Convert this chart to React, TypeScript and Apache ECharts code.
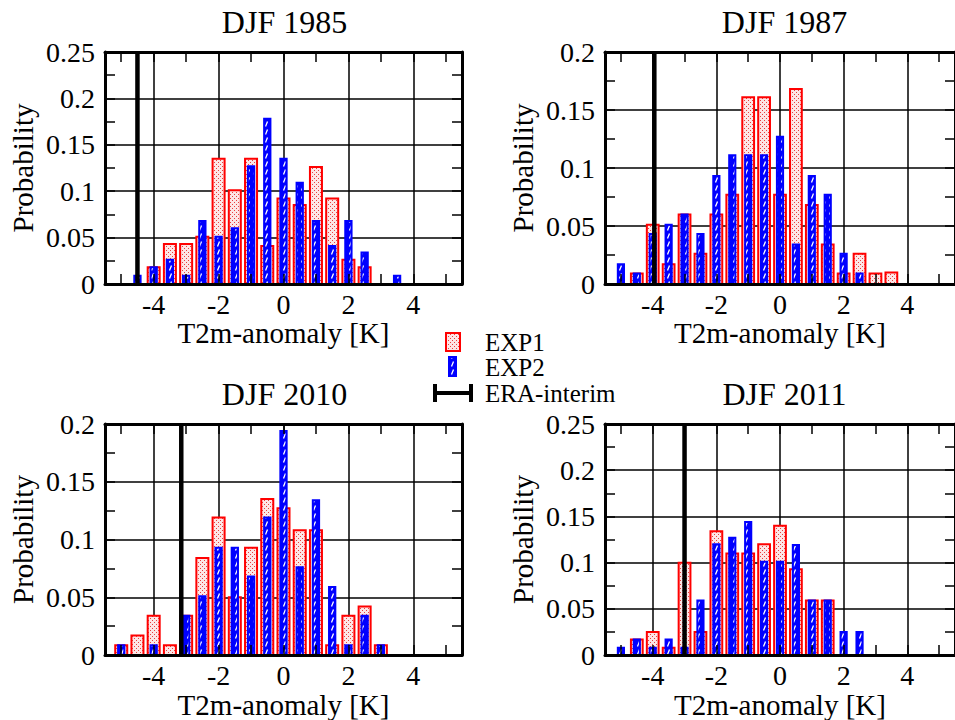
import React, { useEffect, useRef } from 'react';
import * as echarts from 'echarts';

// ---------- data ----------
const bins = [-5, -4.5, -4, -3.5, -3, -2.5, -2, -1.5, -1, -0.5, 0, 0.5, 1, 1.5, 2, 2.5, 3, 3.5];

const panelTitles = ['DJF 1985', 'DJF 1987', 'DJF 2010', 'DJF 2011'];

const exp1_1985 = [0, 0, 0.018, 0.043, 0.043, 0.051, 0.135, 0.101, 0.135, 0.041, 0.092, 0.085, 0.126, 0.092, 0.026, 0.018, 0, 0];
const exp2_1985 = [0, 0.009, 0.018, 0.026, 0.009, 0.068, 0.051, 0.060, 0.127, 0.178, 0.135, 0.109, 0.068, 0.041, 0.068, 0.034, 0, 0.009];

const exp1_1987 = [0, 0.009, 0.051, 0.017, 0.060, 0.026, 0.060, 0.077, 0.161, 0.161, 0.077, 0.168, 0.068, 0.034, 0.009, 0.026, 0.009, 0.010];
const exp2_1987 = [0.017, 0.009, 0.043, 0.051, 0.060, 0.043, 0.093, 0.111, 0.111, 0.111, 0.127, 0.034, 0.093, 0.077, 0.026, 0.009, 0, 0];

const exp1_2010 = [0.0085, 0.017, 0.034, 0.0085, 0.034, 0.084, 0.119, 0.050, 0.093, 0.135, 0.127, 0.108, 0.108, 0.0085, 0.034, 0.042, 0.0085, 0];
const exp2_2010 = [0.0085, 0, 0.0085, 0, 0.034, 0.051, 0.093, 0.093, 0.068, 0.119, 0.194, 0.076, 0.134, 0.059, 0.0085, 0.034, 0.0085, 0];

const exp1_2011 = [0, 0.017, 0.025, 0.008, 0.100, 0.025, 0.134, 0.110, 0.110, 0.120, 0.140, 0.093, 0.059, 0.059, 0, 0, 0, 0];
const exp2_2011 = [0.008, 0.017, 0.008, 0.017, 0.008, 0.059, 0.120, 0.127, 0.144, 0.101, 0.101, 0.119, 0.059, 0.059, 0.025, 0.025, 0, 0];

const exp1All = [exp1_1985, exp1_1987, exp1_2010, exp1_2011];
const exp2All = [exp2_1985, exp2_1987, exp2_2010, exp2_2011];

const eraInterim = [-4.5, -3.95, -3.15, -3.0];
const yMax = [0.25, 0.2, 0.2, 0.25];

const xLabelTicks = [-4, -2, 0, 2, 4];
const xSmallTicks = [-5, -4, -3, -2, -1, 0, 1, 2, 3, 4, 5];
const legendNames = ['EXP1', 'EXP2', 'ERA-interim'];
const xAxisName = 'T2m-anomaly [K]';
const yAxisName = 'Probability';

// ---------- layout ----------
const FONT = '"Liberation Serif", "Times New Roman", serif';
const grids = [
  { left: 105, top: 52, width: 357, height: 232 },
  { left: 605, top: 52, width: 357, height: 232 },
  { left: 105, top: 424, width: 357, height: 232 },
  { left: 605, top: 424, width: 357, height: 232 },
];
const RED = '#ff0000';
const BLUE = '#0000ff';

function makeRedPattern() {
  const c = document.createElement('canvas');
  c.width = 4; c.height = 4;
  const g = c.getContext('2d')!;
  g.fillStyle = '#fde6e6';
  g.fillRect(0, 0, 4, 4);
  g.fillStyle = '#e84040';
  g.fillRect(0, 0, 1, 1);
  g.fillRect(2, 2, 1, 1);
  return c;
}

function makeBluePattern() {
  const c = document.createElement('canvas');
  c.width = 6; c.height = 8;
  const g = c.getContext('2d')!;
  g.fillStyle = BLUE;
  g.fillRect(0, 0, 6, 8);
  g.strokeStyle = '#ffffff';
  g.lineWidth = 1.3;
  g.beginPath();
  g.moveTo(1.5, 6.5);
  g.lineTo(3.5, 1.5);
  g.stroke();
  return c;
}

export default function App() {
  const ref = useRef<HTMLDivElement>(null);

  useEffect(() => {
    document.body.style.margin = '0';
    if (!ref.current) return;
    const chart = echarts.init(ref.current, undefined, { renderer: 'svg' });

    const redPat: any = { image: makeRedPattern(), repeat: 'repeat', imageWidth: 4, imageHeight: 4 };
    const bluePat: any = { image: makeBluePattern(), repeat: 'repeat', imageWidth: 6, imageHeight: 8 };

    const barRenderer = (hw: number, fill: any, stroke: string) => (params: any, api: any) => {
      const x = api.value(0);
      const y = api.value(1);
      if (!y) return null;
      const tl = api.coord([x - hw, y]);
      const br = api.coord([x + hw, 0]);
      return {
        type: 'rect',
        shape: { x: tl[0], y: tl[1], width: br[0] - tl[0], height: br[1] - tl[1] },
        style: { fill, stroke, lineWidth: 2 },
      };
    };

    const xAxes: any[] = [];
    const yAxes: any[] = [];
    const series: any[] = [];
    const graphics: any[] = [];

    grids.forEach((g, i) => {
      const base = {
        gridIndex: i, type: 'value', min: -5.5, max: 5.5,
      };
      // grid lines + labels + name
      xAxes.push({
        ...base, position: 'bottom', z: 0,
        axisLine: { show: false, onZero: false },
        axisTick: { show: false, customValues: xLabelTicks },
        axisLabel: { show: true, customValues: xLabelTicks, fontFamily: FONT, fontSize: 28, color: '#000', margin: 6 },
        splitLine: { show: true, lineStyle: { color: '#000', width: 1.5 } },
        name: xAxisName, nameLocation: 'middle', nameGap: 34,
        nameTextStyle: { fontFamily: FONT, fontSize: 29, color: '#000' },
      });
      // ticks bottom
      xAxes.push({
        ...base, position: 'bottom', z: 10,
        axisLine: { show: true, onZero: false, lineStyle: { color: '#000', width: 3 } },
        axisTick: { show: true, inside: true, length: 10, customValues: xSmallTicks, lineStyle: { color: '#000', width: 1.5 } },
        axisLabel: { show: false },
        splitLine: { show: false },
      });
      // ticks top
      xAxes.push({
        ...base, position: 'top', z: 10,
        axisLine: { show: true, onZero: false, lineStyle: { color: '#000', width: 3 } },
        axisTick: { show: true, inside: true, length: 10, customValues: xSmallTicks, lineStyle: { color: '#000', width: 1.5 } },
        axisLabel: { show: false },
        splitLine: { show: false },
      });

      const ybase = { gridIndex: i, type: 'value', min: 0, max: yMax[i], interval: 0.05 };
      yAxes.push({
        ...ybase, position: 'left', z: 0,
        axisLine: { show: false, onZero: false },
        axisTick: { show: false },
        axisLabel: { show: true, fontFamily: FONT, fontSize: 28, color: '#000', margin: 10 },
        splitLine: { show: true, lineStyle: { color: '#000', width: 1.5 } },
        name: yAxisName, nameLocation: 'middle', nameGap: 68,
        nameTextStyle: { fontFamily: FONT, fontSize: 29, color: '#000' },
      });
      ['left', 'right'].forEach((pos) => {
        yAxes.push({
          ...ybase, position: pos, z: 10,
          axisLine: { show: true, onZero: false, lineStyle: { color: '#000', width: 3 } },
          axisTick: { show: true, inside: true, length: 10, lineStyle: { color: '#000', width: 1.5 } },
          minorTick: { show: true, splitNumber: 2, length: 10, lineStyle: { color: '#000', width: 1.5 } },
          axisLabel: { show: false },
          splitLine: { show: false },
        });
      });

      const xi = i * 3;
      const yi = i * 3;
      series.push({
        type: 'custom', name: legendNames[0], xAxisIndex: xi, yAxisIndex: yi, z: 2,
        renderItem: barRenderer(0.185, redPat, RED),
        data: bins.map((b, k) => [b, exp1All[i][k]]),
        encode: { x: 0, y: 1 },
      });
      series.push({
        type: 'custom', name: legendNames[1], xAxisIndex: xi, yAxisIndex: yi, z: 3,
        renderItem: barRenderer(0.097, bluePat, BLUE),
        data: bins.map((b, k) => [b, exp2All[i][k]]),
        encode: { x: 0, y: 1 },
      });
      series.push({
        type: 'custom', name: legendNames[2], xAxisIndex: xi, yAxisIndex: yi, z: 5,
        renderItem: (params: any, api: any) => {
          const x = api.value(0);
          const p0 = api.coord([x, 0]);
          const p1 = api.coord([x, yMax[i]]);
          return {
            type: 'line',
            shape: { x1: p0[0], y1: p0[1], x2: p1[0], y2: p1[1] },
            style: { stroke: '#000', lineWidth: 4.5 },
          };
        },
        data: [[eraInterim[i], yMax[i]]],
        encode: { x: 0, y: 1 },
      });

      graphics.push({
        type: 'text', x: g.left + g.width / 2 + 1, y: g.top - 30,
        style: { text: panelTitles[i], font: `32px ${FONT}`, fill: '#000', textAlign: 'center', textVerticalAlign: 'middle' },
      });
    });

    // legend
    graphics.push({
      type: 'rect', shape: { x: 446, y: 333, width: 14, height: 18 },
      style: { fill: redPat, stroke: RED, lineWidth: 2 },
    });
    graphics.push({
      type: 'rect', shape: { x: 449, y: 357, width: 7, height: 19 },
      style: { fill: bluePat, stroke: BLUE, lineWidth: 2 },
    });
    graphics.push({ type: 'line', shape: { x1: 435, y1: 393, x2: 471, y2: 393 }, style: { stroke: '#000', lineWidth: 4 } });
    graphics.push({ type: 'line', shape: { x1: 435, y1: 384, x2: 435, y2: 402 }, style: { stroke: '#000', lineWidth: 4 } });
    graphics.push({ type: 'line', shape: { x1: 471, y1: 384, x2: 471, y2: 402 }, style: { stroke: '#000', lineWidth: 4 } });
    const legendY = [342, 367, 393];
    legendNames.forEach((n, k) => {
      graphics.push({
        type: 'text', x: 485, y: legendY[k],
        style: { text: n, font: `25px ${FONT}`, fill: '#000', textAlign: 'left', textVerticalAlign: 'middle' },
      });
    });

    chart.setOption({
      animation: false,
      backgroundColor: '#ffffff',
      grid: grids.map((g) => ({ ...g, containLabel: false })),
      xAxis: xAxes,
      yAxis: yAxes,
      series,
      graphic: graphics,
    });

    return () => chart.dispose();
  }, []);

  return <div ref={ref} style={{ width: 955, height: 720 }} />;
}
